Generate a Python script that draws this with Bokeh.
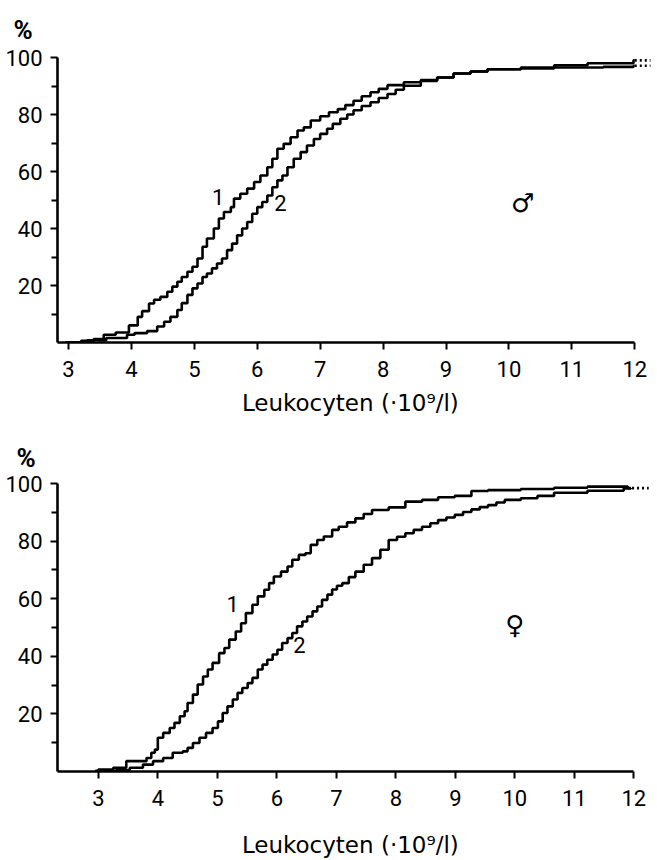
from bokeh.plotting import figure
from bokeh.layouts import column
from bokeh.models import FixedTicker, Range1d, Title
from bokeh.core.properties import value
from bokeh.embed import file_html
from bokeh.resources import INLINE

# ---------------- data ----------------
x_ticks = [3, 4, 5, 6, 7, 8, 9, 10, 11, 12]
y_ticks = [20, 40, 60, 80, 100]
y_minor = [10, 30, 50, 70, 90]
x_label = "Leukocyten  (·10⁹/l)"
y_unit = "%"

# male panel, curve 1
m1_x = [2.95, 3.2, 3.4, 3.56, 3.75, 3.96, 4.10, 4.17, 4.28, 4.36, 4.46, 4.57, 4.65, 4.73,
        4.80, 4.89, 4.97, 5.05, 5.13, 5.20, 5.31, 5.39, 5.47, 5.58, 5.63, 5.73, 5.84,
        5.95, 6.05, 6.16, 6.24, 6.32, 6.42, 6.53, 6.64, 6.74, 6.85, 7.00, 7.14, 7.28,
        7.40, 7.53, 7.66, 7.80, 7.93, 8.07, 8.33, 8.60, 8.86, 9.12, 9.39, 9.66, 10.19,
        10.72, 11.50, 11.98, 12.0]
m1_y = [0.0, 0.6, 1.2, 2.7, 3.5, 6.0, 9.0, 11.0, 13.7, 15.0, 16.0, 17.8, 19.6, 21.3,
        23.0, 24.8, 26.6, 29.5, 33.6, 36.5, 40.0, 43.5, 45.8, 47.5, 50.5, 52.2, 54.0,
        56.3, 58.6, 61.5, 64.5, 68.0, 69.7, 72.0, 74.4, 75.5, 77.9, 79.4, 80.8, 81.9,
        83.3, 84.8, 86.4, 87.8, 89.0, 90.3, 91.3, 92.1, 93.0, 94.4, 95.1, 95.9, 96.2,
        96.5, 96.7, 97.1, 97.1]
# male panel, curve 2
m2_x = [2.95, 3.3, 3.6, 3.93, 4.05, 4.25, 4.41, 4.52, 4.62, 4.73, 4.80, 4.89, 4.97, 5.05,
        5.13, 5.20, 5.28, 5.36, 5.44, 5.52, 5.60, 5.68, 5.76, 5.84, 5.92, 6.00, 6.08,
        6.16, 6.24, 6.32, 6.40, 6.48, 6.58, 6.69, 6.79, 6.90, 7.00, 7.11, 7.20, 7.32,
        7.43, 7.53, 7.66, 7.80, 7.93, 8.07, 8.20, 8.33, 8.60, 8.86, 9.12, 9.39, 9.66,
        10.19, 10.72, 11.25, 11.98, 12.0]
m2_y = [0.0, 0.8, 1.6, 2.7, 3.3, 4.0, 5.6, 7.3, 9.0, 11.4, 13.8, 16.7, 19.0, 20.7,
        23.0, 24.2, 26.0, 27.7, 29.5, 32.4, 34.7, 37.6, 40.0, 42.3, 45.2, 47.5, 49.3,
        51.6, 54.5, 56.9, 58.6, 61.5, 64.5, 66.8, 69.1, 71.4, 73.2, 75.0, 76.7, 78.5,
        80.0, 81.5, 83.0, 84.3, 85.8, 87.2, 88.7, 90.1, 91.8, 93.0, 94.4, 95.1, 95.9,
        96.5, 97.3, 98.0, 99.0, 99.0]
# female panel, curve 1
f1_x = [2.95, 3.0, 3.25, 3.47, 3.81, 3.89, 3.95, 4.00, 4.09, 4.20, 4.28, 4.37, 4.45, 4.50,
        4.59, 4.67, 4.76, 4.84, 4.92, 5.03, 5.12, 5.20, 5.31, 5.40, 5.48, 5.59, 5.68,
        5.79, 5.87, 5.95, 6.07, 6.18, 6.26, 6.37, 6.48, 6.57, 6.68, 6.79, 6.93, 7.04,
        7.18, 7.32, 7.46, 7.60, 7.88, 8.16, 8.44, 8.71, 8.99, 9.27, 9.55, 10.10, 10.66,
        11.22, 11.90, 11.95]
f1_y = [0.0, 0.7, 1.3, 3.6, 4.7, 6.5, 7.6, 11.7, 13.4, 15.1, 16.9, 19.2, 20.9, 23.8,
        26.7, 30.2, 33.0, 35.4, 37.7, 41.1, 42.9, 45.8, 48.6, 51.5, 55.0, 57.9, 60.8,
        63.1, 65.4, 67.7, 69.4, 71.2, 73.5, 75.2, 75.8, 78.7, 80.4, 81.6, 83.9, 85.0,
        86.5, 87.9, 89.4, 90.8, 91.7, 93.7, 94.3, 95.2, 95.7, 97.4, 97.7, 98.1, 98.5,
        98.9, 98.4, 98.4]
# female panel, curve 2
f2_x = [2.95, 3.3, 3.53, 3.75, 3.92, 4.09, 4.25, 4.42, 4.50, 4.59, 4.70, 4.81, 4.92, 5.01,
        5.09, 5.17, 5.26, 5.34, 5.42, 5.51, 5.59, 5.68, 5.76, 5.84, 5.93, 6.01, 6.09,
        6.18, 6.26, 6.34, 6.43, 6.51, 6.60, 6.68, 6.76, 6.85, 6.93, 7.01, 7.10, 7.21,
        7.32, 7.46, 7.60, 7.74, 7.88, 8.02, 8.16, 8.30, 8.44, 8.58, 8.71, 8.85, 8.99,
        9.13, 9.27, 9.41, 9.55, 9.69, 9.83, 10.10, 10.38, 10.66, 11.22, 11.83, 11.95]
f2_y = [0.2, 0.5, 1.3, 2.4, 3.6, 4.7, 6.5, 7.0, 8.2, 9.9, 11.7, 13.4, 15.1, 17.4,
        20.3, 22.6, 25.0, 27.3, 29.0, 30.7, 32.5, 35.4, 37.1, 38.8, 40.6, 42.3, 44.6,
        46.3, 48.1, 50.4, 52.1, 53.8, 55.6, 57.3, 59.6, 61.4, 63.2, 64.5, 65.4, 67.5,
        69.4, 71.8, 74.1, 77.0, 80.4, 81.5, 82.7, 83.9, 85.0, 86.2, 87.3, 88.2, 89.1,
        90.1, 91.0, 91.8, 92.5, 93.4, 94.3, 94.9, 95.7, 96.8, 97.5, 98.3, 98.4]

# curve number labels and sex symbols
m_lab_x = [5.38, 6.37, 10.22]
m_lab_y = [51, 49, 49]
m_lab_t = ["1", "2", "♂"]
f_lab_x = [5.26, 6.38, 10.0]
f_lab_y = [58, 44, 51]
f_lab_t = ["1", "2", "♀"]

# dotted continuations at the right edge
m_tail_x0 = [12.0, 12.0]
m_tail_x1 = [12.3, 12.3]
m_tail_y = [99.0, 97.1]
f_tail_x0 = [11.97]
f_tail_x1 = [12.25]
f_tail_y = [98.4]

FONT = "Roboto"


def panel(xr, axis_start, top_border, left_border, c1, c2, labs, tails,
          pct_offset, pct_standoff, xlab_standoff):
    p = figure(width=657, height=430, x_range=Range1d(*xr), y_range=Range1d(0, 100),
               output_backend="svg", toolbar_location=None,
               min_border_left=left_border, min_border_right=7,
               min_border_top=top_border, min_border_bottom=88)
    p.background_fill_color = "white"
    p.border_fill_color = "white"
    p.outline_line_color = None
    p.xgrid.visible = False
    p.ygrid.visible = False

    p.title.visible = False
    p.add_layout(Title(text=y_unit, align="left", vertical_align="top", offset=pct_offset,
                       standoff=pct_standoff, text_font=FONT, text_font_size="26px",
                       text_font_style="bold", text_color="black"), "above")

    for xs, ys in (c1, c2):
        p.step(xs, ys, mode="after", line_color="black", line_width=2.6)

    tx0, tx1, ty = tails
    p.segment(x0=tx0, y0=ty, x1=tx1, y1=ty, line_color="black", line_width=2.6,
              line_dash="2 3")

    lx, ly, lt = labs
    p.text(x=lx[:2], y=ly[:2], text=lt[:2], text_font=value(FONT), text_font_size="22px",
           text_align="center", text_baseline="middle", text_color="black")
    p.text(x=lx[2:], y=ly[2:], text=lt[2:], text_font=value("DejaVu Sans"),
           text_font_size="26px", text_align="center", text_baseline="middle",
           text_color="black")

    xa = p.xaxis[0]
    xa.ticker = FixedTicker(ticks=x_ticks)
    xa.bounds = (axis_start, 12)
    xa.axis_line_width = 2.6
    xa.major_tick_line_width = 2
    xa.major_tick_out = 7
    xa.major_tick_in = 0
    xa.minor_tick_out = 0
    xa.major_label_text_font = FONT
    xa.major_label_text_font_size = "22px"
    xa.major_label_text_color = "black"
    xa.major_label_standoff = 11
    xa.axis_label = x_label
    xa.axis_label_text_font = "DejaVu Sans"
    xa.axis_label_text_font_size = "23px"
    xa.axis_label_text_font_style = "normal"
    xa.axis_label_text_color = "black"
    xa.axis_label_standoff = xlab_standoff

    ya = p.yaxis[0]
    ya.ticker = FixedTicker(ticks=y_ticks, minor_ticks=y_minor)
    ya.bounds = (0, 100)
    ya.axis_line_width = 2.6
    ya.major_tick_line_width = 2
    ya.minor_tick_line_width = 2
    ya.major_tick_out = 7
    ya.major_tick_in = 0
    ya.minor_tick_out = 6
    ya.minor_tick_in = 0
    ya.major_label_text_font = FONT
    ya.major_label_text_font_size = "22px"
    ya.major_label_text_color = "black"
    ya.major_label_standoff = 8
    return p


p_m = panel((2.825, 12.25), 2.75, 57, 57, (m1_x, m1_y), (m2_x, m2_y),
            (m_lab_x, m_lab_y, m_lab_t), (m_tail_x0, m_tail_x1, m_tail_y),
            -44, 22, 10)
p_f = panel((2.314, 12.28), 2.28, 53, 54, (f1_x, f1_y), (f2_x, f2_y),
            (f_lab_x, f_lab_y, f_lab_t), (f_tail_x0, f_tail_x1, f_tail_y),
            -41, 18, 23)

layout = column(p_m, p_f, spacing=0)
open("out.html", "w").write(file_html(layout, INLINE))
